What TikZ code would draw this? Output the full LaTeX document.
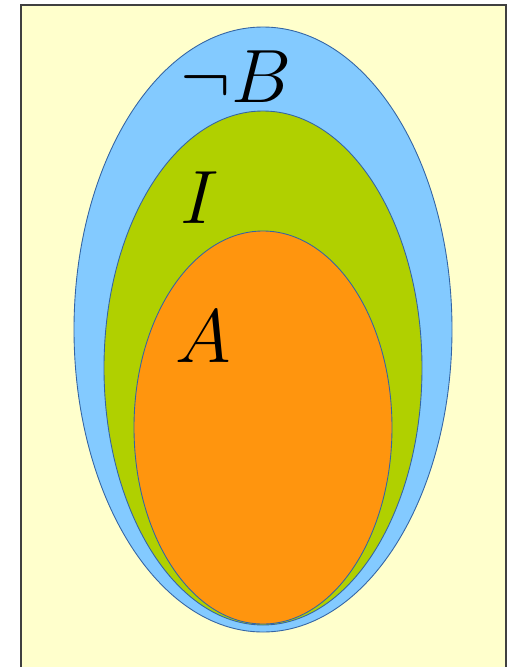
\documentclass[tikz,border=0pt]{standalone}
\usepackage{amsmath,amssymb}
\usepackage{graphicx}
\usepackage{tikz}
\usetikzlibrary{positioning}
\definecolor{paper}{RGB}{255,255,204}
\definecolor{skyb}{RGB}{131,202,255}
\definecolor{lime}{RGB}{176,208,0}
\definecolor{orng}{RGB}{255,149,14}
\definecolor{rim}{RGB}{52,101,164}
\newcommand{\biglab}[1]{\scalebox{1.73}{\fontsize{24.88}{30}\selectfont$#1$}}
\tikzset{
  setb/.style={draw=rim,line width=0.5pt},
  lab/.style={anchor=base,inner sep=0pt}
}
\begin{document}
\begin{tikzpicture}[x=0.02cm,y=-0.02cm]
\useasboundingbox (0,0) rectangle (511,667);
\clip (0,0) rectangle (511,667);
\draw[fill=paper,draw=black!75,line width=1.2pt] (21,5) rectangle (506,675);
% the three nested sets
\filldraw[setb,fill=skyb] (263,329.5) ellipse [x radius=189,y radius=302.5];
\filldraw[setb,fill=lime] (263,368) ellipse [x radius=159,y radius=257];
\filldraw[setb,fill=orng] (263,427.5) ellipse [x radius=129,y radius=196.5];
\node[lab] (nb) at (236,102) {\biglab{\neg B}};
\node[lab] (ii) at (200,223) {\biglab{I}};
\node[lab] (aa) at (203,362) {\biglab{A}};
\end{tikzpicture}
\end{document}
